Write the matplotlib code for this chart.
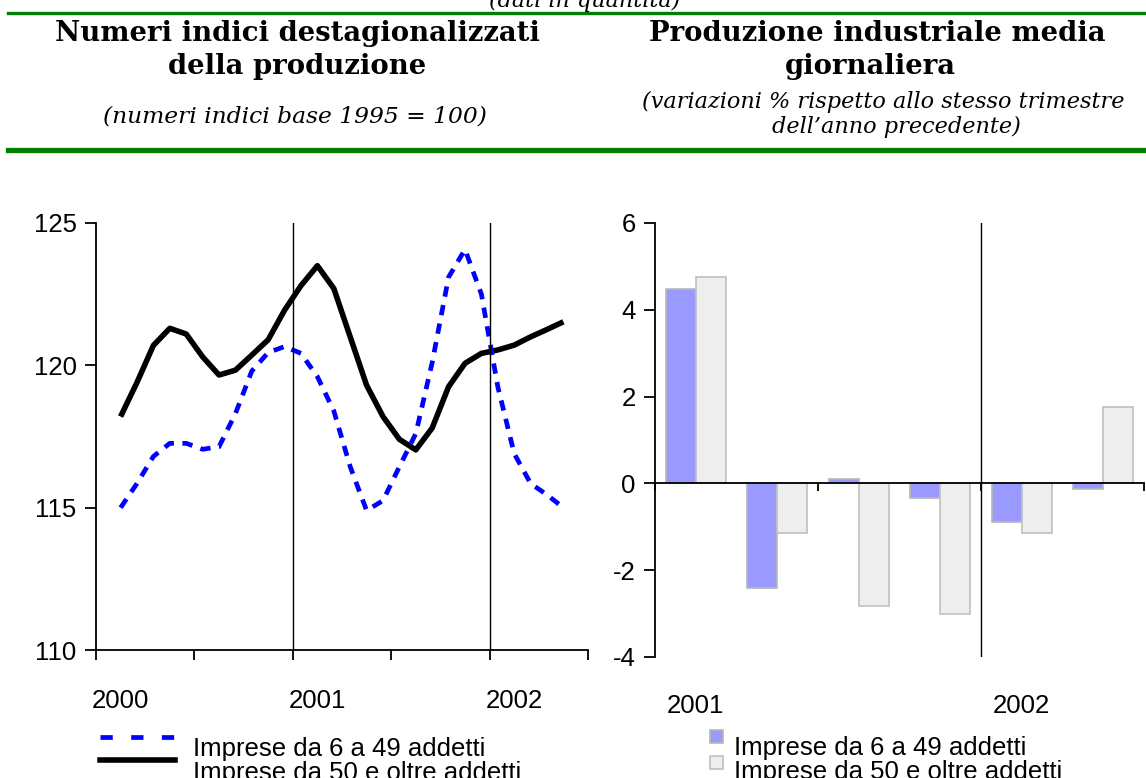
import numpy as np
import matplotlib
matplotlib.use("Agg")
import matplotlib.pyplot as plt
from matplotlib.lines import Line2D
from matplotlib.patches import Rectangle
import matplotlib.transforms as mtransforms

W, H = 1146, 778

# --- dati ---------------------------------------------------------------
# indice mensile: 0 = gennaio 2000
mesi = np.arange(1, 29)
piccole = [115.0, 115.85, 116.8, 117.26, 117.26, 117.05, 117.14, 118.3, 119.8, 120.45,
           120.66, 120.42, 119.6, 118.4, 116.44, 114.9, 115.25, 116.44, 117.6, 120.1,
           123.1, 124.07, 122.5, 119.25, 116.9, 115.85, 115.45, 115.0]
grandi = [118.2, 119.4, 120.7, 121.3, 121.1, 120.3, 119.66, 119.83, 120.36, 120.9,
          121.94, 122.8, 123.5, 122.7, 121.0, 119.3, 118.2, 117.4, 117.03, 117.8,
          119.25, 120.07, 120.42, 120.54, 120.71, 121.0, 121.26, 121.53]
anni_sx = ['2000', '2001', '2002']

trimestri = ['I 2001', 'II 2001', 'III 2001', 'IV 2001', 'I 2002', 'II 2002']
var_piccole = [4.48, -2.4, 0.09, -0.33, -0.88, -0.14]
var_grandi = [4.75, -1.15, -2.82, -3.0, -1.15, 1.75]
anni_dx = ['2001', '2002']

leg_labels = ['Imprese da 6 a 49 addetti', 'Imprese da 50 e oltre addetti']

# --- stile --------------------------------------------------------------
plt.rcParams['font.family'] = ['Liberation Sans', 'DejaVu Sans']
plt.rcParams['axes.unicode_minus'] = False
SANS = 18.5
serif = ['DejaVu Serif']
verde = '#008000'
blu = '#0000FF'
blu_bar = '#9999FF'
grigio_bar = '#EEEEEE'


def fx(px):
    return px / W


def fy(py):
    return 1 - py / H


fig = plt.figure(figsize=(W / 100, H / 100), dpi=100)

# intestazione
fig.text(fx(585), fy(7), '(dati in quantità)', family=serif, style='italic',
         fontsize=16, ha='center', va='baseline')
fig.add_artist(Line2D([fx(8), 1], [fy(12.5), fy(12.5)], color=verde, lw=2.4))
fig.add_artist(Line2D([fx(8), 1], [fy(149.5), fy(149.5)], color=verde, lw=3.8))

TIT = 19.8
SUB = 16.8
fig.text(fx(297), fy(41), 'Numeri indici destagionalizzati', family=serif,
         fontweight='bold', fontsize=TIT, ha='center', va='baseline')
fig.text(fx(297), fy(74), 'della produzione', family=serif,
         fontweight='bold', fontsize=TIT, ha='center', va='baseline')
fig.text(fx(295), fy(116), '(numeri indici base 1995 = 100)', family=serif,
         style='italic', fontsize=SUB, ha='center', va='center')

fig.text(fx(877), fy(41), 'Produzione industriale media', family=serif,
         fontweight='bold', fontsize=TIT, ha='center', va='baseline')
fig.text(fx(870), fy(74), 'giornaliera', family=serif,
         fontweight='bold', fontsize=TIT, ha='center', va='baseline')
fig.text(fx(883), fy(102), '(variazioni % rispetto allo stesso trimestre', family=serif,
         style='italic', fontsize=SUB * 0.96, ha='center', va='center')
fig.text(fx(896), fy(127), 'dell\u2019anno precedente)', family=serif,
         style='italic', fontsize=SUB * 0.96, ha='center', va='center')

# --- grafico di sinistra ------------------------------------------------
ax1 = fig.add_axes([fx(96), fy(650), fx(492), 427 / H])
x_mesi = mesi + 0.5
ax1.plot(x_mesi, grandi, color='black', lw=4.0, solid_capstyle='butt',
         solid_joinstyle='round')
ax1.plot(x_mesi, piccole, color=blu, lw=3.4, linestyle=(0, (2.2, 1.8)))
for xv in [12, 24]:
    ax1.axvline(xv, color='black', lw=1)
ax1.set_xlim(0, 30)
ax1.set_ylim(110, 125)
ax1.set_yticks([110, 115, 120, 125])
ax1.set_xticks([0, 6, 12, 18, 24, 30])
ax1.set_xticklabels([])
ax1.set_xticks([1.5, 13.5, 25.5], minor=True)
ax1.set_xticklabels(anni_sx, minor=True)
ax1.tick_params(axis='x', which='major', direction='out', length=7, width=1.3)
ax1.tick_params(axis='x', which='minor', length=0, pad=28, labelsize=SANS)
ax1.tick_params(axis='y', direction='out', length=8, width=1.3, labelsize=SANS, pad=6)
for s in ['top', 'right']:
    ax1.spines[s].set_visible(False)
for s in ['left', 'bottom']:
    ax1.spines[s].set_linewidth(1.3)

# --- grafico di destra --------------------------------------------------
ax2 = fig.add_axes([fx(655), fy(657), fx(489), 434 / H])
xc = np.arange(len(trimestri)) + 0.5
bw = 0.37
ax2.bar(xc - bw / 2, var_piccole, bw, color=blu_bar, edgecolor='#b8b8b8', lw=1.2)
ax2.bar(xc + bw / 2, var_grandi, bw, color=grigio_bar, edgecolor='#c0c0c0', lw=1.2)
ax2.axvline(4, color='black', lw=1)
ax2.set_xlim(0, 6)
ax2.set_ylim(-4, 6)
ax2.set_yticks([-4, -2, 0, 2, 4, 6])
ax2.spines['bottom'].set_position(('data', 0))
ax2.spines['bottom'].set_linewidth(1.3)
ax2.spines['left'].set_linewidth(1.3)
for s in ['top', 'right']:
    ax2.spines[s].set_visible(False)
ax2.set_xticks([0, 2, 4, 6])
ax2.set_xticklabels([])
ax2.tick_params(axis='x', direction='out', length=6, width=1.3)
ax2.tick_params(axis='y', direction='out', length=8, width=1.3, labelsize=SANS, pad=6)
trans = mtransforms.blended_transform_factory(ax2.transData, ax2.transAxes)
for xv, lab in zip([0.5, 4.5], anni_dx):
    ax2.text(xv, -49 / 434, lab, transform=trans, ha='center', va='center', fontsize=SANS)

# --- legende ------------------------------------------------------------
fig.add_artist(Line2D([fx(100), fx(175)], [fy(737), fy(737)], color=blu, lw=3.4,
                      linestyle=(0, (2.6, 3.9))))
fig.add_artist(Line2D([fx(100), fx(175)], [fy(760), fy(760)], color='black', lw=4.0))
fig.text(fx(193), fy(756), leg_labels[0], fontsize=SANS, va='baseline')
fig.text(fx(193), fy(780), leg_labels[1], fontsize=SANS, va='baseline')

fig.add_artist(Rectangle((fx(710), fy(743)), fx(13), 13 / H, facecolor=blu_bar,
                         edgecolor='#b8b8b8', lw=1.2, transform=fig.transFigure))
fig.add_artist(Rectangle((fx(710), fy(769)), fx(13), 13 / H, facecolor=grigio_bar,
                         edgecolor='#c0c0c0', lw=1.2, transform=fig.transFigure))
fig.text(fx(734), fy(755), leg_labels[0], fontsize=SANS, va='baseline')
fig.text(fx(734), fy(779), leg_labels[1], fontsize=SANS, va='baseline')

fig.savefig('out.png', dpi=100)
